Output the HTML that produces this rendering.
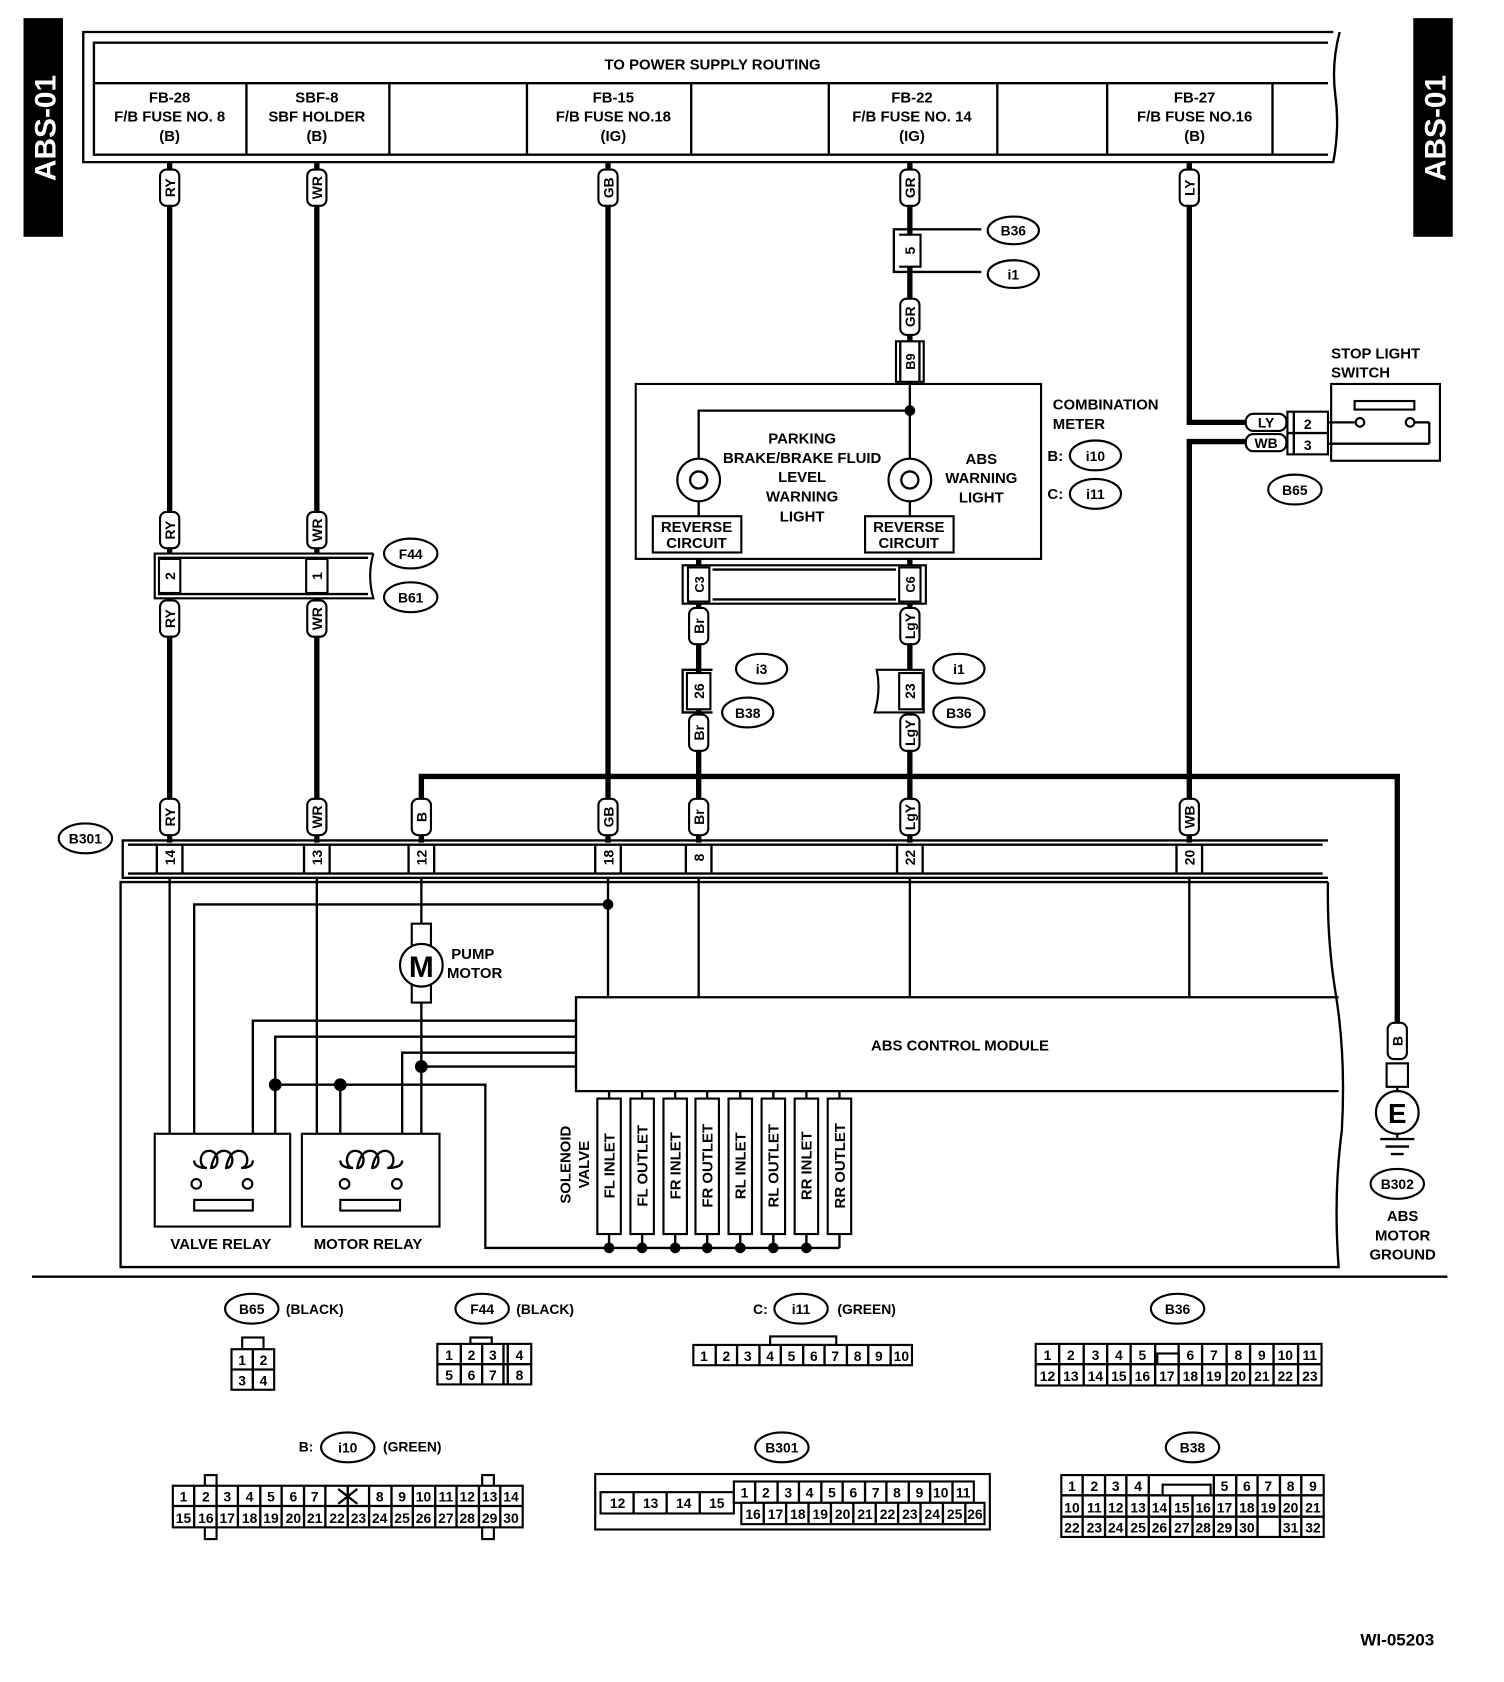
<!DOCTYPE html>
<html><head><meta charset="utf-8"><style>
html,body{margin:0;padding:0;background:#fff}
svg{display:block}
text{font-family:"Liberation Sans",sans-serif;font-weight:bold;fill:#000}
.c{text-anchor:middle}
.w{fill:none;stroke:#000;stroke-width:5}
.n{fill:none;stroke:#000;stroke-width:2.2}
.b{fill:#fff;stroke:#000;stroke-width:2}
</style></head><body>
<svg width="1504" height="1682" viewBox="0 0 1410 1577" xmlns="http://www.w3.org/2000/svg">
<defs>
<g id="pill"><rect x="-9" y="-17" width="18" height="34" rx="6" fill="#fff" stroke="#000" stroke-width="2"/></g>
</defs>
<rect x="22" y="17" width="37" height="205" fill="#000"/>
<text transform="translate(52,120) rotate(-90)" class="c" font-size="28" style="fill:#fff">ABS-01</text>
<rect x="1325" y="17" width="37" height="205" fill="#000"/>
<text transform="translate(1355,120) rotate(-90)" class="c" font-size="28" style="fill:#fff">ABS-01</text>

<path d="M1250 30 H78 V152 H1250 Q1256 120 1252 90 Q1248 60 1256 30" class="n" stroke-width="2.5"/>
<path d="M1245 40 H88 V145 H1245" class="n" stroke-width="2.5"/>
<line x1="88" y1="78" x2="1245" y2="78" class="n"/>
<g class="n"><line x1="231" y1="78" x2="231" y2="145"/><line x1="365" y1="78" x2="365" y2="145"/><line x1="494" y1="78" x2="494" y2="145"/><line x1="648" y1="78" x2="648" y2="145"/><line x1="777" y1="78" x2="777" y2="145"/><line x1="935" y1="78" x2="935" y2="145"/><line x1="1038" y1="78" x2="1038" y2="145"/><line x1="1193" y1="78" x2="1193" y2="145"/></g>
<g font-size="14" class="c">
<text x="668" y="65" class="c">TO POWER SUPPLY ROUTING</text>
<text x="159" y="96" class="c">FB-28</text><text x="159" y="114" class="c">F/B FUSE NO. 8</text><text x="159" y="132" class="c">(B)</text>
<text x="297" y="96" class="c">SBF-8</text><text x="297" y="114" class="c">SBF HOLDER</text><text x="297" y="132" class="c">(B)</text>
<text x="575" y="96" class="c">FB-15</text><text x="575" y="114" class="c">F/B FUSE NO.18</text><text x="575" y="132" class="c">(IG)</text>
<text x="855" y="96" class="c">FB-22</text><text x="855" y="114" class="c">F/B FUSE NO. 14</text><text x="855" y="132" class="c">(IG)</text>
<text x="1120" y="96" class="c">FB-27</text><text x="1120" y="114" class="c">F/B FUSE NO.16</text><text x="1120" y="132" class="c">(B)</text>
</g>

<g class="w">
<line x1="159" y1="152" x2="159" y2="790"/>
<line x1="297" y1="152" x2="297" y2="790"/>
<line x1="570" y1="152" x2="570" y2="790"/>
<line x1="853" y1="152" x2="853" y2="360"/>
<line x1="655" y1="524" x2="655" y2="790"/>
<line x1="853" y1="524" x2="853" y2="790"/>
<polyline points="1115,152 1115,396 1168,396"/>
<polyline points="1168,414 1115,414 1115,790"/>
<polyline points="395,790 395,728 1310,728 1310,962"/>
</g>

<g font-size="13">
<use href="#pill" x="159" y="176"/><text transform="translate(159,176) rotate(-90)" class="c" y="5">RY</text>
<use href="#pill" x="297" y="176"/><text transform="translate(297,176) rotate(-90)" class="c" y="5">WR</text>
<use href="#pill" x="570" y="176"/><text transform="translate(570,176) rotate(-90)" class="c" y="5">GB</text>
<use href="#pill" x="853" y="176"/><text transform="translate(853,176) rotate(-90)" class="c" y="5">GR</text>
<use href="#pill" x="1115" y="176"/><text transform="translate(1115,176) rotate(-90)" class="c" y="5">LY</text>
<use href="#pill" x="853" y="297"/><text transform="translate(853,297) rotate(-90)" class="c" y="5">GR</text>
<use href="#pill" x="159" y="497"/><text transform="translate(159,497) rotate(-90)" class="c" y="5">RY</text>
<use href="#pill" x="297" y="497"/><text transform="translate(297,497) rotate(-90)" class="c" y="5">WR</text>
<use href="#pill" x="159" y="580"/><text transform="translate(159,580) rotate(-90)" class="c" y="5">RY</text>
<use href="#pill" x="297" y="580"/><text transform="translate(297,580) rotate(-90)" class="c" y="5">WR</text>
<use href="#pill" x="655" y="587"/><text transform="translate(655,587) rotate(-90)" class="c" y="5">Br</text>
<use href="#pill" x="853" y="587"/><text transform="translate(853,587) rotate(-90)" class="c" y="5">LgY</text>
<use href="#pill" x="655" y="687"/><text transform="translate(655,687) rotate(-90)" class="c" y="5">Br</text>
<use href="#pill" x="853" y="687"/><text transform="translate(853,687) rotate(-90)" class="c" y="5">LgY</text>
<use href="#pill" x="159" y="766"/><text transform="translate(159,766) rotate(-90)" class="c" y="5">RY</text>
<use href="#pill" x="297" y="766"/><text transform="translate(297,766) rotate(-90)" class="c" y="5">WR</text>
<use href="#pill" x="395" y="766"/><text transform="translate(395,766) rotate(-90)" class="c" y="5">B</text>
<use href="#pill" x="570" y="766"/><text transform="translate(570,766) rotate(-90)" class="c" y="5">GB</text>
<use href="#pill" x="655" y="766"/><text transform="translate(655,766) rotate(-90)" class="c" y="5">Br</text>
<use href="#pill" x="853" y="766"/><text transform="translate(853,766) rotate(-90)" class="c" y="5">LgY</text>
<use href="#pill" x="1115" y="766"/><text transform="translate(1115,766) rotate(-90)" class="c" y="5">WB</text>
<use href="#pill" x="1310" y="976"/><text transform="translate(1310,976) rotate(-90)" class="c" y="5">B</text>
</g>

<path d="M920 215 H838 V255 H920" class="n"/>
<path d="M843 220 H863 V250 H843" class="b"/>
<text transform="translate(853,235) rotate(-90)" class="c" y="5" font-size="13">5</text>
<ellipse cx="950" cy="216" rx="24" ry="13" class="b"/><text x="950" y="221" class="c" font-size="13">B36</text>
<ellipse cx="950" cy="257" rx="24" ry="13" class="b"/><text x="950" y="262" class="c" font-size="13">i1</text>
<path d="M840 320 H866 V358 H840 Z" class="b"/>
<line x1="844" y1="320" x2="844" y2="358" class="n"/><line x1="862" y1="320" x2="862" y2="358" class="n"/>
<text transform="translate(853,339) rotate(-90)" class="c" y="5" font-size="12">B9</text>

<rect x="596" y="360" width="380" height="164" class="b"/>
<polyline points="655,436 655,385 853,385 853,436" class="n"/>
<line x1="853" y1="360" x2="853" y2="385" class="n"/>
<circle cx="853" cy="385" r="5"/>
<circle cx="655" cy="450" r="20" class="b" stroke-width="2.5"/><circle cx="655" cy="450" r="8" class="n"/>
<circle cx="853" cy="450" r="20" class="b" stroke-width="2.5"/><circle cx="853" cy="450" r="8" class="n"/>
<line x1="655" y1="470" x2="655" y2="484" class="n"/><line x1="853" y1="470" x2="853" y2="484" class="n"/>
<rect x="612" y="484" width="83" height="34" class="b"/><rect x="811" y="484" width="83" height="34" class="b"/>
<g font-size="14" class="c">
<text x="653" y="499" class="c">REVERSE</text><text x="653" y="514" class="c">CIRCUIT</text>
<text x="852" y="499" class="c">REVERSE</text><text x="852" y="514" class="c">CIRCUIT</text>
<text x="752" y="416" class="c">PARKING</text><text x="752" y="434" class="c">BRAKE/BRAKE FLUID</text><text x="752" y="452" class="c">LEVEL</text><text x="752" y="470" class="c">WARNING</text><text x="752" y="489" class="c">LIGHT</text>
<text x="920" y="435" class="c">ABS</text><text x="920" y="453" class="c">WARNING</text><text x="920" y="471" class="c">LIGHT</text>
</g>
<g font-size="14">
<text x="987" y="384">COMBINATION</text><text x="987" y="402">METER</text>
<text x="982" y="432">B:</text><text x="982" y="468">C:</text>
<text x="1248" y="336">STOP LIGHT</text><text x="1248" y="354">SWITCH</text>
</g>
<ellipse cx="1027" cy="427" rx="24" ry="14" class="b"/><text x="1027" y="432" class="c" font-size="13">i10</text>
<ellipse cx="1027" cy="463" rx="24" ry="14" class="b"/><text x="1027" y="468" class="c" font-size="13">i11</text>

<rect x="640" y="530" width="228" height="36" class="b"/>
<line x1="668" y1="534" x2="840" y2="534" class="n"/><line x1="668" y1="562" x2="840" y2="562" class="n"/>
<rect x="645" y="532" width="20" height="32" class="b"/><rect x="843" y="532" width="20" height="32" class="b"/>
<text transform="translate(655,548) rotate(-90)" class="c" y="5" font-size="12">C3</text>
<text transform="translate(853,548) rotate(-90)" class="c" y="5" font-size="12">C6</text>

<path d="M668 628 H640 V668 H668" class="n"/>
<rect x="644" y="631" width="22" height="34" class="b"/>
<text transform="translate(655,648) rotate(-90)" class="c" y="5" font-size="13">26</text>
<path d="M822 628 Q826 648 820 668 H866 V628 Z" class="b"/>
<rect x="843" y="631" width="22" height="34" class="b"/>
<text transform="translate(853,648) rotate(-90)" class="c" y="5" font-size="13">23</text>
<ellipse cx="714" cy="627" rx="24" ry="14" class="b"/><text x="714" y="632" class="c" font-size="13">i3</text>
<ellipse cx="701" cy="668" rx="24" ry="14" class="b"/><text x="701" y="673" class="c" font-size="13">B38</text>
<ellipse cx="899" cy="627" rx="24" ry="14" class="b"/><text x="899" y="632" class="c" font-size="13">i1</text>
<ellipse cx="899" cy="668" rx="24" ry="14" class="b"/><text x="899" y="673" class="c" font-size="13">B36</text>

<path d="M350 519 H145 V561 H350 Q344 540 350 519" class="b"/>
<line x1="148" y1="523" x2="345" y2="523" class="n"/><line x1="148" y1="557" x2="345" y2="557" class="n"/>
<rect x="149" y="524" width="20" height="32" class="b"/><rect x="287" y="524" width="20" height="32" class="b"/>
<text transform="translate(159,540) rotate(-90)" class="c" y="5" font-size="13">2</text>
<text transform="translate(297,540) rotate(-90)" class="c" y="5" font-size="13">1</text>
<ellipse cx="385" cy="519" rx="25" ry="14" class="b"/><text x="385" y="524" class="c" font-size="13">F44</text>
<ellipse cx="385" cy="560" rx="25" ry="14" class="b"/><text x="385" y="565" class="c" font-size="13">B61</text>

<rect x="1248" y="360" width="102" height="72" class="b"/>
<rect x="1207" y="386" width="38" height="40" class="b"/>
<line x1="1207" y1="406" x2="1245" y2="406" class="n"/><line x1="1213" y1="386" x2="1213" y2="426" class="n"/>
<text x="1226" y="402" class="c" font-size="13">2</text><text x="1226" y="422" class="c" font-size="13">3</text>
<rect x="1168" y="388" width="38" height="16" rx="7" class="b"/><text x="1187" y="401" class="c" font-size="13">LY</text>
<rect x="1168" y="407" width="38" height="16" rx="7" class="b"/><text x="1187" y="420" class="c" font-size="13">WB</text>
<line x1="1245" y1="396" x2="1270" y2="396" class="n"/><line x1="1245" y1="416" x2="1340" y2="416" class="n"/>
<line x1="1340" y1="416" x2="1340" y2="396" class="n"/>
<rect x="1270" y="376" width="56" height="8" class="b"/>
<circle cx="1275" cy="396" r="4" class="b"/><circle cx="1322" cy="396" r="4" class="b"/>
<line x1="1326" y1="396" x2="1340" y2="396" class="n"/>
<ellipse cx="1214" cy="459" rx="25" ry="14" class="b"/><text x="1214" y="464" class="c" font-size="13">B65</text>

<path d="M1245 788 H115 V823 H1245" class="n"/>
<line x1="120" y1="792" x2="1240" y2="792" class="n"/><line x1="120" y1="819" x2="1240" y2="819" class="n"/>
<g font-size="13">
<text transform="translate(159,804) rotate(-90)" class="c" y="5">14</text>
<text transform="translate(297,804) rotate(-90)" class="c" y="5">13</text>
<text transform="translate(395,804) rotate(-90)" class="c" y="5">12</text>
<text transform="translate(570,804) rotate(-90)" class="c" y="5">18</text>
<text transform="translate(655,804) rotate(-90)" class="c" y="5">8</text>
<text transform="translate(853,804) rotate(-90)" class="c" y="5">22</text>
<text transform="translate(1115,804) rotate(-90)" class="c" y="5">20</text>
</g>
<g class="n"><line x1="147" y1="792" x2="147" y2="819"/><line x1="171" y1="792" x2="171" y2="819"/><line x1="285" y1="792" x2="285" y2="819"/><line x1="309" y1="792" x2="309" y2="819"/><line x1="383" y1="792" x2="383" y2="819"/><line x1="407" y1="792" x2="407" y2="819"/><line x1="558" y1="792" x2="558" y2="819"/><line x1="582" y1="792" x2="582" y2="819"/><line x1="643" y1="792" x2="643" y2="819"/><line x1="667" y1="792" x2="667" y2="819"/><line x1="841" y1="792" x2="841" y2="819"/><line x1="865" y1="792" x2="865" y2="819"/><line x1="1103" y1="792" x2="1103" y2="819"/><line x1="1127" y1="792" x2="1127" y2="819"/></g>
<ellipse cx="80" cy="786" rx="25" ry="14" class="b"/><text x="80" y="791" class="c" font-size="13">B301</text>

<path d="M1245 827 H113 V1188 H1255 Q1250 1120 1258 1060 Q1262 990 1252 930 Q1244 880 1245 827" class="n" stroke-width="2.5"/>
<path d="M1255 935 H540 V1023 H1255" class="n" stroke-width="2.5"/>
<text x="900" y="985" class="c" font-size="14">ABS CONTROL MODULE</text>
<g class="n">
<line x1="570" y1="823" x2="570" y2="935"/><line x1="655" y1="823" x2="655" y2="935"/><line x1="853" y1="823" x2="853" y2="935"/><line x1="1115" y1="823" x2="1115" y2="935"/>
<polyline points="570,848 182,848 182,1088"/>
<polyline points="159,823 159,1110 180,1110"/>
<polyline points="297,823 297,1110 318,1110"/>
<line x1="395" y1="823" x2="395" y2="866"/>
<polyline points="395,940 395,1110 377,1110"/>
<polyline points="540,957 237,957 237,1088"/>
<polyline points="540,972 258,972 258,1110 237,1110"/>
<polyline points="540,987 377,987 377,1088"/>
<line x1="540" y1="1000" x2="395" y2="1000"/>
<polyline points="258,1017 455,1017 455,1170 787,1170"/>
<polyline points="319,1017 319,1088"/>
</g>
<circle cx="570" cy="848" r="5"/><circle cx="395" cy="1000" r="6"/><circle cx="258" cy="1017" r="6"/><circle cx="319" cy="1017" r="6"/>
<rect x="386" y="866" width="18" height="74" class="b"/>
<circle cx="395" cy="905" r="20" class="b" stroke-width="2.5"/>
<text x="395" y="916" class="c" font-size="28">M</text>
<text x="423" y="899" font-size="14">PUMP</text><text x="419" y="917" font-size="14">MOTOR</text>
<rect x="145" y="1063" width="127" height="87" class="b"/>
<rect x="283" y="1063" width="129" height="87" class="b"/>
<path d="M182 1088 Q182 1095 194 1095 C186 1095 186 1079 196 1079 C206 1079 206 1095 198 1095 C198 1095 200 1079 210 1079 C220 1079 220 1095 212 1095 C212 1095 214 1079 224 1079 C234 1079 234 1095 226 1095 Q237 1095 237 1088" class="n"/>
<path d="M319 1088 Q319 1095 331 1095 C323 1095 323 1079 333 1079 C343 1079 343 1095 335 1095 C335 1095 337 1079 347 1079 C357 1079 357 1095 349 1095 C349 1095 351 1079 361 1079 C371 1079 371 1095 363 1095 Q377 1095 377 1088" class="n"/>
<circle cx="184" cy="1110" r="4.5" class="b"/><circle cx="232" cy="1110" r="4.5" class="b"/>
<circle cx="323" cy="1110" r="4.5" class="b"/><circle cx="372" cy="1110" r="4.5" class="b"/>
<rect x="182" y="1125" width="55" height="10" class="b"/><rect x="319" y="1125" width="56" height="10" class="b"/>
<text x="207" y="1171" class="c" font-size="14">VALVE RELAY</text>
<text x="345" y="1171" class="c" font-size="14">MOTOR RELAY</text>
<text transform="translate(535,1092) rotate(-90)" class="c" font-size="14">SOLENOID</text>
<text transform="translate(552,1092) rotate(-90)" class="c" font-size="14">VALVE</text>
<g class="n">
<line x1="571" y1="1023" x2="571" y2="1170"/><line x1="602" y1="1023" x2="602" y2="1170"/><line x1="633" y1="1023" x2="633" y2="1170"/><line x1="663" y1="1023" x2="663" y2="1170"/><line x1="694" y1="1023" x2="694" y2="1170"/><line x1="725" y1="1023" x2="725" y2="1170"/><line x1="756" y1="1023" x2="756" y2="1170"/><line x1="787" y1="1023" x2="787" y2="1170"/>
</g>
<g class="b"><rect x="560" y="1030" width="22" height="127"/><rect x="591" y="1030" width="22" height="127"/><rect x="622" y="1030" width="22" height="127"/><rect x="652" y="1030" width="22" height="127"/><rect x="683" y="1030" width="22" height="127"/><rect x="714" y="1030" width="22" height="127"/><rect x="745" y="1030" width="22" height="127"/><rect x="776" y="1030" width="22" height="127"/></g>
<g font-size="14">
<text transform="translate(576,1093) rotate(-90)" class="c">FL INLET</text>
<text transform="translate(607,1093) rotate(-90)" class="c">FL OUTLET</text>
<text transform="translate(638,1093) rotate(-90)" class="c">FR INLET</text>
<text transform="translate(668,1093) rotate(-90)" class="c">FR OUTLET</text>
<text transform="translate(699,1093) rotate(-90)" class="c">RL INLET</text>
<text transform="translate(730,1093) rotate(-90)" class="c">RL OUTLET</text>
<text transform="translate(761,1093) rotate(-90)" class="c">RR INLET</text>
<text transform="translate(792,1093) rotate(-90)" class="c">RR OUTLET</text>
</g>
<g><circle cx="571" cy="1170" r="5"/><circle cx="602" cy="1170" r="5"/><circle cx="633" cy="1170" r="5"/><circle cx="663" cy="1170" r="5"/><circle cx="694" cy="1170" r="5"/><circle cx="725" cy="1170" r="5"/><circle cx="756" cy="1170" r="5"/></g>

<rect x="1300" y="997" width="20" height="22" class="b"/>
<line x1="1310" y1="1019" x2="1310" y2="1023" class="n"/>
<circle cx="1310" cy="1043" r="20" class="b" stroke-width="2.5"/>
<text x="1310" y="1053" class="c" font-size="26">E</text>
<line x1="1310" y1="1063" x2="1310" y2="1068" class="n"/>
<line x1="1294" y1="1068" x2="1326" y2="1068" class="n"/><line x1="1299" y1="1075" x2="1321" y2="1075" class="n"/><line x1="1304" y1="1082" x2="1316" y2="1082" class="n"/>
<ellipse cx="1310" cy="1110" rx="25" ry="14" class="b"/><text x="1310" y="1115" class="c" font-size="13">B302</text>
<text x="1315" y="1145" class="c" font-size="14">ABS</text><text x="1315" y="1163" class="c" font-size="14">MOTOR</text><text x="1315" y="1181" class="c" font-size="14">GROUND</text>

<line x1="30" y1="1197" x2="1357" y2="1197" class="n"/>

<g font-size="13">
<ellipse cx="236" cy="1227" rx="25" ry="14" class="b"/><text x="236" y="1232" class="c">B65</text><text x="268" y="1232">(BLACK)</text>
<ellipse cx="452" cy="1227" rx="25" ry="14" class="b"/><text x="452" y="1232" class="c">F44</text><text x="484" y="1232">(BLACK)</text>
<text x="706" y="1232">C:</text><ellipse cx="751" cy="1227" rx="25" ry="14" class="b"/><text x="751" y="1232" class="c">i11</text><text x="785" y="1232">(GREEN)</text>
<ellipse cx="1104" cy="1227" rx="25" ry="14" class="b"/><text x="1104" y="1232" class="c">B36</text>
<text x="280" y="1361">B:</text><ellipse cx="326" cy="1357" rx="25" ry="14" class="b"/><text x="326" y="1362" class="c">i10</text><text x="359" y="1361">(GREEN)</text>
<ellipse cx="733" cy="1357" rx="25" ry="14" class="b"/><text x="733" y="1362" class="c">B301</text>
<ellipse cx="1118" cy="1357" rx="25" ry="14" class="b"/><text x="1118" y="1362" class="c">B38</text>
</g>
<g font-size="13" font-weight="normal">
<rect x="227" y="1254" width="20" height="11" class="b"/>
<rect x="217" y="1265" width="40" height="38" class="b"/><line x1="237" y1="1265" x2="237" y2="1303" class="n"/><line x1="217" y1="1284" x2="257" y2="1284" class="n"/>
<text x="227" y="1280" class="c">1</text><text x="247" y="1280" class="c">2</text><text x="227" y="1299" class="c">3</text><text x="247" y="1299" class="c">4</text>
<rect x="441" y="1254" width="20" height="6" class="b"/>
<rect x="410" y="1260" width="88" height="38" class="b"/><line x1="410" y1="1279" x2="498" y2="1279" class="n"/>
<line x1="432" y1="1260" x2="432" y2="1298" class="n"/><line x1="452" y1="1260" x2="452" y2="1298" class="n"/><line x1="472" y1="1260" x2="472" y2="1298" class="n"/><line x1="476" y1="1260" x2="476" y2="1298" class="n"/>
<text x="421" y="1275" class="c">1</text><text x="442" y="1275" class="c">2</text><text x="462" y="1275" class="c">3</text><text x="487" y="1275" class="c">4</text>
<text x="421" y="1294" class="c">5</text><text x="442" y="1294" class="c">6</text><text x="462" y="1294" class="c">7</text><text x="487" y="1294" class="c">8</text>
<rect x="722" y="1253" width="62" height="8" class="b"/>
<rect x="650" y="1261" width="205" height="19" class="b"/>
<g class="n"><line x1="671" y1="1261" x2="671" y2="1280"/><line x1="691" y1="1261" x2="691" y2="1280"/><line x1="712" y1="1261" x2="712" y2="1280"/><line x1="732" y1="1261" x2="732" y2="1280"/><line x1="753" y1="1261" x2="753" y2="1280"/><line x1="773" y1="1261" x2="773" y2="1280"/><line x1="794" y1="1261" x2="794" y2="1280"/><line x1="814" y1="1261" x2="814" y2="1280"/><line x1="835" y1="1261" x2="835" y2="1280"/></g>
<text x="660" y="1276" class="c">1</text><text x="681" y="1276" class="c">2</text><text x="701" y="1276" class="c">3</text><text x="722" y="1276" class="c">4</text><text x="742" y="1276" class="c">5</text><text x="763" y="1276" class="c">6</text><text x="783" y="1276" class="c">7</text><text x="804" y="1276" class="c">8</text><text x="824" y="1276" class="c">9</text><text x="845" y="1276" class="c">10</text>
<rect x="971" y="1260" width="268" height="39" class="b"/><line x1="971" y1="1279" x2="1239" y2="1279" class="n"/>
<rect x="1085" y="1269" width="20" height="10" class="b"/>
<g class="n"><line x1="993" y1="1260" x2="993" y2="1299"/><line x1="1016" y1="1260" x2="1016" y2="1299"/><line x1="1038" y1="1260" x2="1038" y2="1299"/><line x1="1060" y1="1260" x2="1060" y2="1299"/><line x1="1083" y1="1260" x2="1083" y2="1299"/><line x1="1105" y1="1260" x2="1105" y2="1299"/><line x1="1127" y1="1260" x2="1127" y2="1299"/><line x1="1150" y1="1260" x2="1150" y2="1299"/><line x1="1172" y1="1260" x2="1172" y2="1299"/><line x1="1194" y1="1260" x2="1194" y2="1299"/><line x1="1217" y1="1260" x2="1217" y2="1299"/></g>
<text x="982" y="1275" class="c">1</text><text x="1004" y="1275" class="c">2</text><text x="1027" y="1275" class="c">3</text><text x="1049" y="1275" class="c">4</text><text x="1071" y="1275" class="c">5</text><text x="1116" y="1275" class="c">6</text><text x="1138" y="1275" class="c">7</text><text x="1161" y="1275" class="c">8</text><text x="1183" y="1275" class="c">9</text><text x="1205" y="1275" class="c">10</text><text x="1228" y="1275" class="c">11</text>
<text x="982" y="1295" class="c">12</text><text x="1004" y="1295" class="c">13</text><text x="1027" y="1295" class="c">14</text><text x="1049" y="1295" class="c">15</text><text x="1071" y="1295" class="c">16</text><text x="1094" y="1295" class="c">17</text><text x="1116" y="1295" class="c">18</text><text x="1138" y="1295" class="c">19</text><text x="1161" y="1295" class="c">20</text><text x="1183" y="1295" class="c">21</text><text x="1205" y="1295" class="c">22</text><text x="1228" y="1295" class="c">23</text>
<rect x="192" y="1383" width="11" height="60" class="b"/><rect x="452" y="1383" width="11" height="60" class="b"/>
<rect x="162" y="1393" width="328" height="39" class="b"/><line x1="162" y1="1412" x2="490" y2="1412" class="n"/>
<g class="n"><line x1="182" y1="1393" x2="182" y2="1432"/><line x1="203" y1="1393" x2="203" y2="1432"/><line x1="223" y1="1393" x2="223" y2="1432"/><line x1="244" y1="1393" x2="244" y2="1432"/><line x1="264" y1="1393" x2="264" y2="1432"/><line x1="285" y1="1393" x2="285" y2="1432"/><line x1="305" y1="1393" x2="305" y2="1432"/><line x1="326" y1="1393" x2="326" y2="1432"/><line x1="346" y1="1393" x2="346" y2="1432"/><line x1="367" y1="1393" x2="367" y2="1432"/><line x1="387" y1="1393" x2="387" y2="1432"/><line x1="408" y1="1393" x2="408" y2="1432"/><line x1="428" y1="1393" x2="428" y2="1432"/><line x1="449" y1="1393" x2="449" y2="1432"/><line x1="469" y1="1393" x2="469" y2="1432"/>
<line x1="317" y1="1396" x2="335" y2="1410"/><line x1="335" y1="1396" x2="317" y2="1410"/></g>
<text x="172" y="1408" class="c">1</text><text x="193" y="1408" class="c">2</text><text x="213" y="1408" class="c">3</text><text x="234" y="1408" class="c">4</text><text x="254" y="1408" class="c">5</text><text x="275" y="1408" class="c">6</text><text x="295" y="1408" class="c">7</text><text x="356" y="1408" class="c">8</text><text x="377" y="1408" class="c">9</text><text x="397" y="1408" class="c">10</text><text x="418" y="1408" class="c">11</text><text x="438" y="1408" class="c">12</text><text x="459" y="1408" class="c">13</text><text x="479" y="1408" class="c">14</text>
<text x="172" y="1428" class="c">15</text><text x="193" y="1428" class="c">16</text><text x="213" y="1428" class="c">17</text><text x="234" y="1428" class="c">18</text><text x="254" y="1428" class="c">19</text><text x="275" y="1428" class="c">20</text><text x="295" y="1428" class="c">21</text><text x="316" y="1428" class="c">22</text><text x="336" y="1428" class="c">23</text><text x="356" y="1428" class="c">24</text><text x="377" y="1428" class="c">25</text><text x="397" y="1428" class="c">26</text><text x="418" y="1428" class="c">27</text><text x="438" y="1428" class="c">28</text><text x="459" y="1428" class="c">29</text><text x="479" y="1428" class="c">30</text>
<rect x="558" y="1382" width="370" height="52" class="b"/>
<rect x="563" y="1399" width="125" height="20" class="b"/>
<g class="n"><line x1="594" y1="1399" x2="594" y2="1419"/><line x1="625" y1="1399" x2="625" y2="1419"/><line x1="656" y1="1399" x2="656" y2="1419"/></g>
<text x="579" y="1414" class="c">12</text><text x="610" y="1414" class="c">13</text><text x="641" y="1414" class="c">14</text><text x="672" y="1414" class="c">15</text>
<rect x="688" y="1389" width="225" height="20" class="b"/><rect x="695" y="1409" width="228" height="20" class="b"/>
<g class="n"><line x1="708" y1="1389" x2="708" y2="1409"/><line x1="729" y1="1389" x2="729" y2="1409"/><line x1="749" y1="1389" x2="749" y2="1409"/><line x1="770" y1="1389" x2="770" y2="1409"/><line x1="790" y1="1389" x2="790" y2="1409"/><line x1="811" y1="1389" x2="811" y2="1409"/><line x1="831" y1="1389" x2="831" y2="1409"/><line x1="852" y1="1389" x2="852" y2="1409"/><line x1="872" y1="1389" x2="872" y2="1409"/><line x1="893" y1="1389" x2="893" y2="1409"/>
<line x1="716" y1="1409" x2="716" y2="1429"/><line x1="737" y1="1409" x2="737" y2="1429"/><line x1="758" y1="1409" x2="758" y2="1429"/><line x1="779" y1="1409" x2="779" y2="1429"/><line x1="800" y1="1409" x2="800" y2="1429"/><line x1="821" y1="1409" x2="821" y2="1429"/><line x1="842" y1="1409" x2="842" y2="1429"/><line x1="863" y1="1409" x2="863" y2="1429"/><line x1="884" y1="1409" x2="884" y2="1429"/><line x1="905" y1="1409" x2="905" y2="1429"/></g>
<text x="698" y="1404" class="c">1</text><text x="718" y="1404" class="c">2</text><text x="739" y="1404" class="c">3</text><text x="759" y="1404" class="c">4</text><text x="780" y="1404" class="c">5</text><text x="800" y="1404" class="c">6</text><text x="821" y="1404" class="c">7</text><text x="841" y="1404" class="c">8</text><text x="862" y="1404" class="c">9</text><text x="882" y="1404" class="c">10</text><text x="903" y="1404" class="c">11</text>
<text x="706" y="1424" class="c">16</text><text x="727" y="1424" class="c">17</text><text x="748" y="1424" class="c">18</text><text x="769" y="1424" class="c">19</text><text x="790" y="1424" class="c">20</text><text x="811" y="1424" class="c">21</text><text x="832" y="1424" class="c">22</text><text x="853" y="1424" class="c">23</text><text x="874" y="1424" class="c">24</text><text x="895" y="1424" class="c">25</text><text x="914" y="1424" class="c">26</text>
<rect x="995" y="1383" width="246" height="58" class="b"/>
<line x1="995" y1="1402" x2="1241" y2="1402" class="n"/><line x1="995" y1="1422" x2="1241" y2="1422" class="n"/>
<rect x="1090" y="1392" width="45" height="10" class="b"/>
<g class="n"><line x1="1015" y1="1383" x2="1015" y2="1441"/><line x1="1036" y1="1383" x2="1036" y2="1441"/><line x1="1056" y1="1383" x2="1056" y2="1441"/><line x1="1077" y1="1383" x2="1077" y2="1441"/><line x1="1097" y1="1402" x2="1097" y2="1441"/><line x1="1118" y1="1402" x2="1118" y2="1441"/><line x1="1138" y1="1383" x2="1138" y2="1441"/><line x1="1159" y1="1383" x2="1159" y2="1441"/><line x1="1179" y1="1383" x2="1179" y2="1441"/><line x1="1200" y1="1383" x2="1200" y2="1441"/><line x1="1220" y1="1383" x2="1220" y2="1441"/></g>
<text x="1005" y="1398" class="c">1</text><text x="1026" y="1398" class="c">2</text><text x="1046" y="1398" class="c">3</text><text x="1067" y="1398" class="c">4</text><text x="1148" y="1398" class="c">5</text><text x="1169" y="1398" class="c">6</text><text x="1189" y="1398" class="c">7</text><text x="1210" y="1398" class="c">8</text><text x="1231" y="1398" class="c">9</text>
<text x="1005" y="1418" class="c">10</text><text x="1026" y="1418" class="c">11</text><text x="1046" y="1418" class="c">12</text><text x="1067" y="1418" class="c">13</text><text x="1087" y="1418" class="c">14</text><text x="1108" y="1418" class="c">15</text><text x="1128" y="1418" class="c">16</text><text x="1148" y="1418" class="c">17</text><text x="1169" y="1418" class="c">18</text><text x="1189" y="1418" class="c">19</text><text x="1210" y="1418" class="c">20</text><text x="1231" y="1418" class="c">21</text>
<text x="1005" y="1437" class="c">22</text><text x="1026" y="1437" class="c">23</text><text x="1046" y="1437" class="c">24</text><text x="1067" y="1437" class="c">25</text><text x="1087" y="1437" class="c">26</text><text x="1108" y="1437" class="c">27</text><text x="1128" y="1437" class="c">28</text><text x="1148" y="1437" class="c">29</text><text x="1169" y="1437" class="c">30</text><text x="1210" y="1437" class="c">31</text><text x="1231" y="1437" class="c">32</text>
</g>
<text x="1310" y="1543" class="c" font-size="16" font-weight="normal">WI-05203</text>
</svg>
</body></html>
